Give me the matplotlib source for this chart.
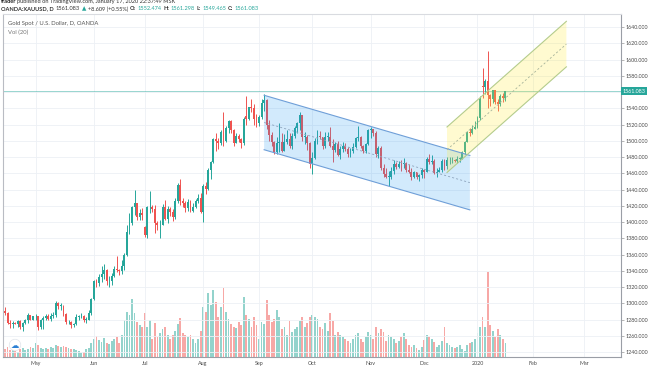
import numpy as np
import pandas as pd
import matplotlib
matplotlib.use('Agg')
import matplotlib.pyplot as plt
import matplotlib.transforms as mtransforms
from matplotlib.patches import Polygon

plt.rcParams['font.family'] = ['Lato', 'DejaVu Sans']

# OANDA:XAUUSD 日线, 2019-04-15 .. 2020-01-17 (每行一个月)
first_day = '2019-04-15'
axis_end_day = '2020-03-31'
holidays = ['2019-12-25', '2020-01-01']

opens = [
    1290, 1288, 1276, 1274, 1276, 1275, 1278, 1271, 1276, 1279, 1286, 1280,
    1284, 1284, 1271, 1279, 1282, 1285, 1281, 1284, 1286, 1301, 1297, 1297, 1287, 1277, 1277, 1273, 1274, 1283, 1284, 1285, 1280, 1280, 1288,
    1305, 1327, 1325, 1333, 1336, 1341, 1327, 1327, 1334, 1342, 1341, 1340, 1346, 1360, 1388, 1399, 1418, 1423, 1406, 1411,
    1394, 1384, 1418, 1419, 1416, 1399, 1396, 1397, 1419, 1404, 1416, 1413, 1406, 1426, 1446, 1426, 1424, 1417, 1425, 1414, 1419, 1426, 1430,
    1413, 1445, 1441, 1464, 1474, 1502, 1500, 1497, 1511, 1500, 1516, 1524, 1513, 1497, 1506, 1502, 1497, 1530, 1527, 1542, 1540, 1527,
    1522, 1529, 1547, 1550, 1519, 1507, 1499, 1486, 1497, 1498, 1488, 1499, 1502, 1494, 1506, 1516, 1522, 1532, 1505, 1505, 1497,
    1472, 1479, 1500, 1506, 1505, 1493, 1505, 1505, 1494, 1489, 1496, 1482, 1490, 1493, 1490, 1484, 1487, 1492, 1504, 1505, 1493, 1488, 1496,
    1513, 1514, 1510, 1484, 1491, 1467, 1459, 1456, 1456, 1463, 1472, 1468, 1472, 1471, 1473, 1464, 1462, 1456, 1461, 1455, 1458,
    1464, 1462, 1477, 1474, 1475, 1460, 1462, 1464, 1475, 1469, 1476, 1476, 1476, 1475, 1478, 1478, 1486, 1499, 1511, 1510, 1515,
    1517, 1528, 1568, 1566, 1574, 1556, 1552, 1562, 1548, 1545, 1555, 1552.474,
]
highs = [
    1295, 1289, 1279, 1278, 1277, 1279, 1279, 1277, 1281, 1288, 1286, 1285,
    1287, 1285, 1281, 1284, 1287, 1287, 1288, 1289, 1303, 1302, 1301, 1298, 1288, 1279, 1278, 1276, 1287, 1286, 1288, 1286, 1283, 1292, 1306,
    1329, 1330, 1336, 1346, 1348, 1342, 1334, 1337, 1346, 1358, 1342, 1353, 1362, 1397, 1411, 1420, 1439, 1424, 1416, 1417,
    1395, 1420, 1438, 1421, 1421, 1401, 1402, 1422, 1427, 1420, 1418, 1416, 1430, 1448, 1453, 1430, 1426, 1428, 1427, 1423, 1428, 1434, 1436,
    1447, 1449, 1466, 1475, 1503, 1510, 1504, 1513, 1535, 1518, 1525, 1526, 1514, 1510, 1508, 1504, 1529, 1555, 1542, 1551, 1545, 1533,
    1532, 1551, 1557, 1552, 1526, 1511, 1500, 1505, 1522, 1509, 1508, 1513, 1510, 1510, 1518, 1523, 1535, 1532, 1511, 1507, 1498,
    1486, 1503, 1513, 1512, 1505, 1511, 1511, 1517, 1502, 1498, 1500, 1494, 1499, 1497, 1492, 1491, 1497, 1505, 1518, 1506, 1495, 1497, 1515,
    1517, 1515, 1512, 1494, 1494, 1471, 1466, 1463, 1468, 1476, 1474, 1475, 1476, 1479, 1474, 1472, 1466, 1463, 1462, 1459, 1466,
    1465, 1480, 1484, 1482, 1477, 1466, 1468, 1478, 1477, 1480, 1480, 1480, 1478, 1481, 1480, 1488, 1500, 1512, 1516, 1519, 1524,
    1531, 1555, 1590, 1576, 1611, 1557, 1563, 1563, 1552, 1557, 1559, 1561.298,
]
lows = [
    1286, 1274, 1270, 1270, 1274, 1271, 1268, 1266, 1274, 1276, 1279, 1279,
    1279, 1267, 1268, 1269, 1280, 1280, 1278, 1282, 1283, 1293, 1292, 1284, 1275, 1274, 1270, 1271, 1273, 1279, 1282, 1277, 1276, 1279, 1286,
    1304, 1320, 1321, 1326, 1330, 1323, 1320, 1323, 1332, 1338, 1335, 1336, 1341, 1358, 1385, 1396, 1409, 1402, 1402, 1402,
    1382, 1381, 1411, 1412, 1386, 1390, 1381, 1396, 1403, 1399, 1408, 1401, 1404, 1424, 1421, 1418, 1412, 1414, 1412, 1413, 1417, 1424, 1411,
    1400, 1434, 1440, 1453, 1473, 1488, 1490, 1495, 1494, 1499, 1510, 1510, 1493, 1497, 1499, 1491, 1495, 1519, 1525, 1535, 1520, 1517,
    1518, 1527, 1537, 1514, 1500, 1494, 1484, 1484, 1486, 1486, 1488, 1496, 1491, 1490, 1504, 1510, 1513, 1500, 1496, 1489, 1467,
    1459, 1477, 1496, 1502, 1490, 1491, 1500, 1492, 1474, 1486, 1481, 1478, 1486, 1487, 1480, 1480, 1485, 1491, 1500, 1491, 1485, 1485, 1495,
    1504, 1506, 1480, 1479, 1464, 1456, 1454, 1445, 1453, 1459, 1465, 1467, 1463, 1467, 1461, 1460, 1452, 1454, 1453, 1451, 1454,
    1454, 1462, 1471, 1472, 1459, 1456, 1461, 1462, 1464, 1465, 1472, 1473, 1474, 1473, 1474, 1477, 1484, 1498, 1506, 1508, 1514,
    1516, 1525, 1553, 1558, 1540, 1543, 1547, 1545, 1537, 1543, 1548, 1549.465,
]
closes = [
    1288, 1276, 1274, 1276, 1275, 1278, 1271, 1276, 1279, 1286, 1280, 1284,
    1284, 1271, 1279, 1282, 1285, 1281, 1284, 1286, 1301, 1297, 1297, 1287, 1277, 1277, 1273, 1274, 1283, 1284, 1285, 1280, 1280, 1288, 1305,
    1327, 1325, 1333, 1336, 1341, 1327, 1327, 1334, 1342, 1341, 1340, 1346, 1360, 1388, 1399, 1418, 1423, 1406, 1411, 1409,
    1384, 1418, 1419, 1416, 1399, 1396, 1397, 1419, 1404, 1416, 1413, 1406, 1426, 1446, 1426, 1424, 1417, 1425, 1414, 1419, 1426, 1430, 1413,
    1445, 1441, 1464, 1474, 1502, 1500, 1497, 1511, 1500, 1516, 1524, 1513, 1497, 1506, 1502, 1497, 1527, 1527, 1542, 1540, 1527, 1520,
    1529, 1547, 1550, 1519, 1507, 1499, 1486, 1497, 1498, 1488, 1499, 1502, 1494, 1506, 1516, 1522, 1532, 1505, 1505, 1497, 1472,
    1479, 1500, 1506, 1505, 1493, 1505, 1505, 1494, 1489, 1496, 1482, 1490, 1493, 1490, 1484, 1487, 1492, 1504, 1505, 1493, 1488, 1496, 1513,
    1514, 1510, 1484, 1491, 1467, 1459, 1456, 1456, 1463, 1472, 1468, 1472, 1471, 1473, 1464, 1462, 1456, 1461, 1455, 1458, 1464,
    1462, 1477, 1474, 1475, 1460, 1462, 1464, 1475, 1469, 1476, 1476, 1476, 1475, 1478, 1478, 1486, 1499, 1511, 1510, 1515, 1517,
    1528, 1552, 1566, 1574, 1556, 1552, 1562, 1548, 1545, 1555, 1552.474, 1561.083,
]
volumes = [
    8, 10, 7, 9, 6, 5, 8, 9, 7, 8, 10, 9,
    14, 12, 9, 8, 9, 8, 10, 9, 12, 11, 10, 11, 10, 9, 8, 8, 7, 6, 4, 5, 8, 9, 14,
    18, 21, 17, 15, 19, 14, 13, 16, 18, 20, 14, 22, 37, 45, 42, 58, 44, 35, 32, 30,
    44, 30, 37, 18, 34, 20, 24, 28, 30, 22, 18, 22, 26, 33, 39, 24, 22, 20, 22, 18, 14, 18, 26,
    50, 45, 64, 52, 67, 55, 40, 50, 69, 45, 38, 33, 30, 29, 35, 32, 60, 42, 38, 30, 40, 32,
    18, 35, 33, 57, 42, 35, 38, 47, 40, 28, 30, 22, 36, 25, 28, 30, 36, 40, 30, 34, 40,
    42, 40, 38, 30, 28, 34, 26, 44, 36, 22, 25, 22, 20, 18, 16, 14, 18, 22, 24, 18, 15, 20, 25,
    22, 18, 30, 24, 28, 25, 16, 22, 20, 18, 14, 16, 20, 24, 18, 12, 10, 12, 9, 7, 10,
    17, 22, 20, 18, 15, 10, 12, 16, 30, 14, 12, 10, 9, 10, 12, 8, 6, 12, 14, 15, 18,
    24, 30, 40, 30, 85, 32, 26, 20, 28, 22, 18, 14,
]

month_labels = ['May', 'Jun', 'Jul', 'Aug', 'Sep', 'Oct', 'Nov', 'Dec', '2020', 'Feb', 'Mar']
price_ticks = list(range(1240, 1641, 20))
last_price = 1561.083

# 两条平行通道 (画图工具)
blue_dates = ['2019-09-04', '2019-12-27']
blue_upper = [1556, 1482]
blue_lower = [1489, 1415]
blue_mid = [1522.5, 1448.5]

yellow_dates = ['2019-12-13', '2020-02-20']
yellow_upper = [1517, 1647]
yellow_lower = [1461, 1591]
yellow_mid = [1489, 1619]

UP = '#26a69a'
DOWN = '#ef5350'
UP_VOL = '#93d3cc'
DOWN_VOL = '#f7a8a6'
TXT = '#4a4a4a'

# 交易日序号当作 x
days = pd.bdate_range(first_day, axis_end_day)
days = days[~days.isin(pd.to_datetime(holidays))]


def pos(d):
    return days.get_loc(pd.Timestamp(d))


x = np.arange(len(closes))
o = np.array(opens)
h = np.array(highs)
l = np.array(lows)
c = np.array(closes)
up = c >= o
month_pos = np.flatnonzero(np.diff(days.month) != 0) + 1

W, H = 654, 366
fig = plt.figure(figsize=(W / 100, H / 100), dpi=100)


def fx(px):
    return px / W


def fy(py):
    return 1 - py / H


rect = [fx(3), fy(357), (621 - 3) / W, (357 - 14) / H]
xlim = (-0.8, 242.5)

# 成交量 (底层)
axv = fig.add_axes(rect, zorder=1)
axv.bar(x, volumes, width=0.72, color=np.where(up, UP_VOL, DOWN_VOL), linewidth=0)
axv.set_xlim(*xlim)
axv.set_ylim(0, 343)
axv.axis('off')

# 价格
ax = fig.add_axes(rect, zorder=2)
ax.patch.set_visible(False)
ax.set_xlim(*xlim)
ax.set_ylim(1234, 1656)
ax.set_yticks(price_ticks)
ax.set_yticklabels(['' if p == 1560 else '%.3f' % p for p in price_ticks])
ax.set_xticks(month_pos)
ax.set_xticklabels(month_labels)
ax.yaxis.tick_right()
ax.grid(color='#edf0f5', lw=0.6)
ax.set_axisbelow(True)
ax.tick_params(axis='y', length=2, width=0.5, color='#999999', labelsize=3.9,
               labelcolor=TXT, pad=1.5)
ax.tick_params(axis='x', length=0, labelsize=3.9, labelcolor=TXT, pad=3)
for side, col in [('top', '#d9dbe0'), ('left', '#b9bcc3'), ('right', '#9a9ea6'), ('bottom', '#9a9ea6')]:
    ax.spines[side].set_color(col)
    ax.spines[side].set_linewidth(0.8)

colors = np.where(up, UP, DOWN)
ax.vlines(x, l, h, colors=colors, lw=0.7, zorder=3)
ax.bar(x, np.maximum(np.abs(c - o), 0.6), bottom=np.minimum(o, c), width=0.75,
       color=colors, linewidth=0, zorder=3)

# 最新价
ax.axhline(last_price, color=UP, lw=0.6, alpha=0.55, zorder=2.5)
trans = mtransforms.blended_transform_factory(ax.transAxes, ax.transData)
ax.text(1.002, last_price, '%.3f' % last_price, transform=trans, ha='left', va='center',
        fontsize=3.9, color='white', clip_on=False,
        bbox=dict(boxstyle='square,pad=0.3', fc=UP, ec='none'))


def channel(dates, upper, lower, mid, face, alpha, edge, dash):
    x0, x1 = pos(dates[0]), pos(dates[1])
    poly = Polygon([(x0, upper[0]), (x1, upper[1]), (x1, lower[1]), (x0, lower[0])],
                   closed=True, facecolor=face, alpha=alpha, edgecolor='none', zorder=4)
    ax.add_patch(poly)
    ax.plot([x0, x1], upper, color=edge, lw=0.8, zorder=5)
    ax.plot([x0, x1], lower, color=edge, lw=0.8, zorder=5)
    ax.plot([x0, x1], mid, color=dash, lw=0.6, ls=(0, (2.5, 2.5)), zorder=5)


channel(blue_dates, blue_upper, blue_lower, blue_mid, '#2196f3', 0.2, '#6f9fd8', '#8ea4bd')
channel(yellow_dates, yellow_upper, yellow_lower, yellow_mid, '#ffeb3b', 0.24, '#b4cc8c', '#a6b39a')

# 标题文字
fig.text(fx(1), fy(1.5), 'trader', fontsize=4.1, weight='bold', color='#222222', va='center')
fig.text(fx(17), fy(1.5), 'published on TradingView.com, January 17, 2020 22:37:49 MSK',
         fontsize=4.1, color='#333333', va='center')

# 第二行: 一段接一段
pieces = [
    ('1561.083', '#333333', 'normal', 1.5),
    ('\u25b2', UP, 'normal', 1.5),
    ('+8.609 (+0.55%)', '#333333', 'normal', 1),
    ('O:', '#333333', 'bold', 1.5),
    ('1552.474', UP, 'normal', 0.8),
    ('H:', '#333333', 'bold', 1.5),
    ('1561.298', UP, 'normal', 0.8),
    ('L:', '#333333', 'bold', 1.5),
    ('1549.465', UP, 'normal', 0.8),
    ('C:', '#333333', 'bold', 1.5),
    ('1561.083', UP, 'normal', 0.8),
]
last = fig.text(fx(1), fy(9), 'OANDA:XAUUSD, D', fontsize=4.1, color='#333333',
                weight='bold', va='center')
for s, col, wt, gap in pieces:
    last = ax.annotate(s, xy=(1, 0.5), xycoords=last, xytext=(gap, 0), textcoords='offset points',
                       fontsize=4.1, color=col, weight=wt, va='center', ha='left',
                       annotation_clip=False)

fig.text(fx(8), fy(24), 'Gold Spot / U.S. Dollar, D, OANDA', fontsize=4.2, color='#555555', va='center')
fig.text(fx(8), fy(32), 'Vol (20)', fontsize=4.2, color='#777777', va='center')

# TradingView 小标志
fig.text(fx(15), fy(345), '\u2601', fontsize=6, color='#2a7fd4', ha='center', va='center',
         family=['DejaVu Sans'],
         bbox=dict(boxstyle='circle,pad=0.15', fc='white', ec='#dfe3ea', lw=0.5), zorder=5)

fig.savefig('out.png', dpi=100)
